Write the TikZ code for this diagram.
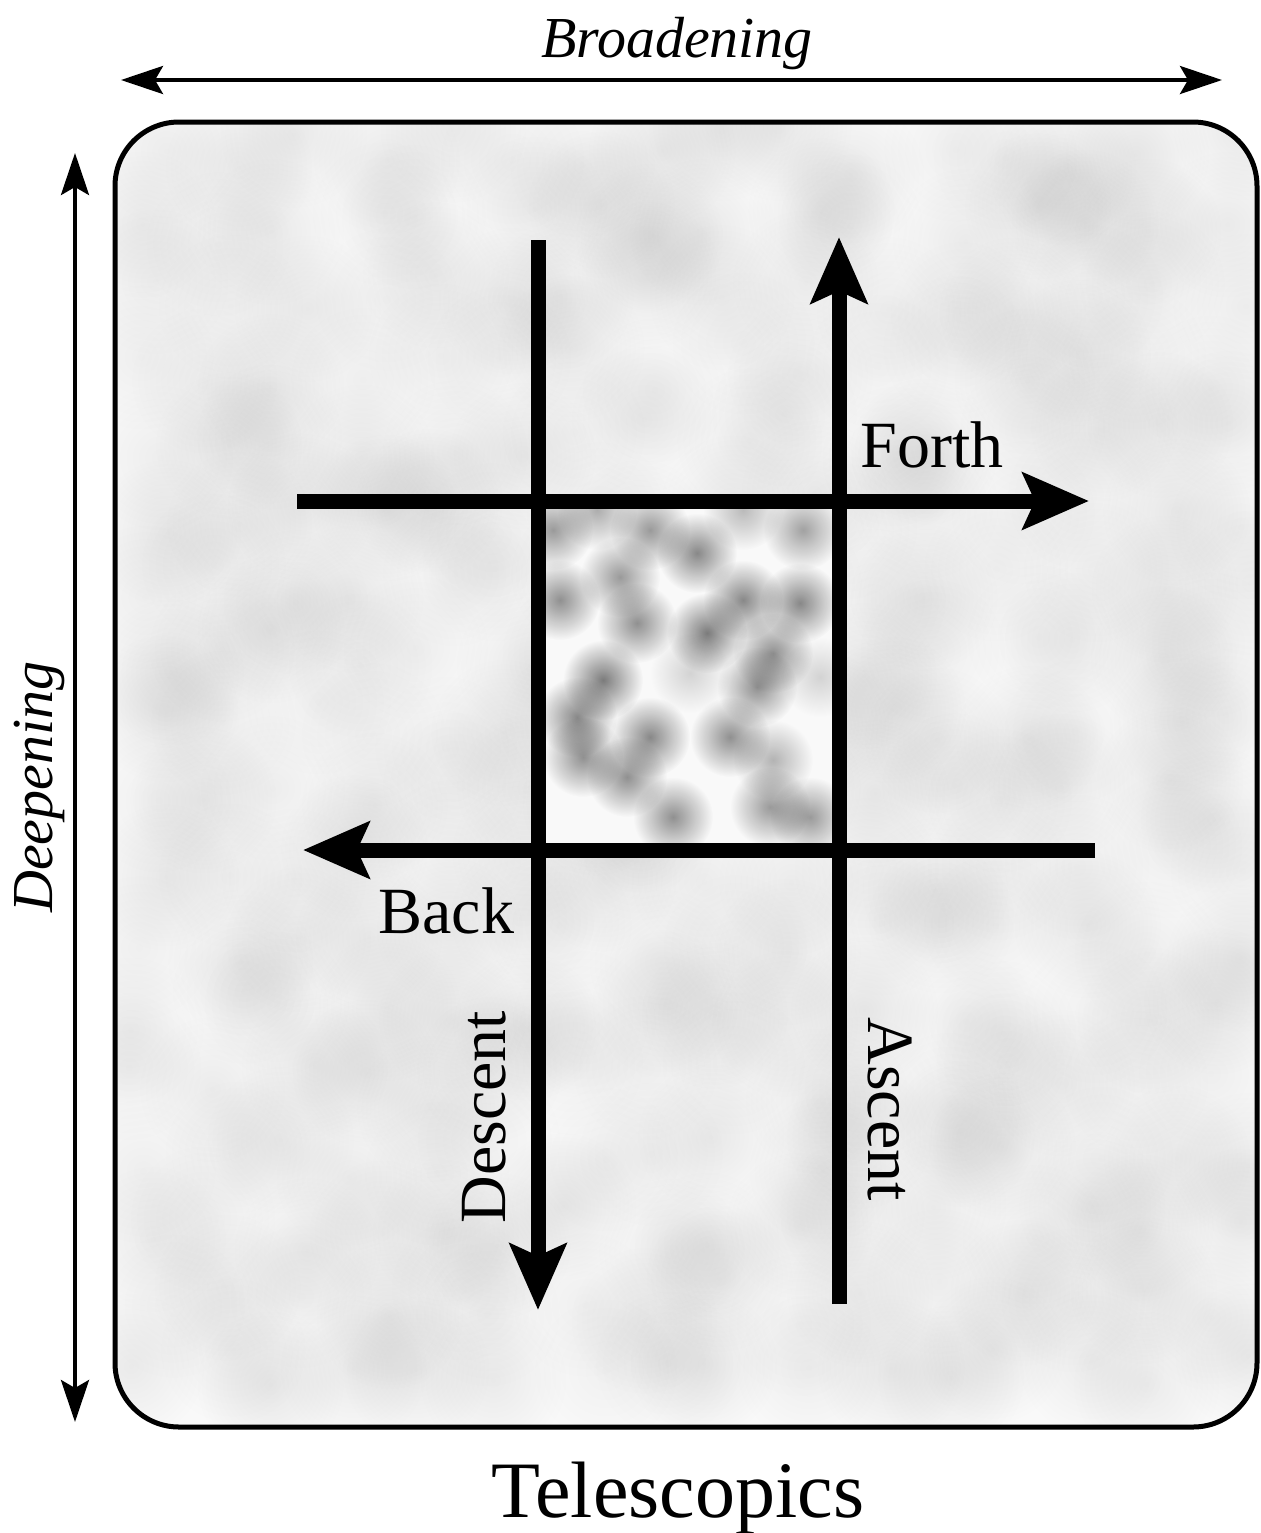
\documentclass[tikz,border=0pt]{standalone}
\usepackage{fontspec}
\setmainfont{Liberation Serif}
\usetikzlibrary{arrows.meta,fadings}
\tikzfading[name=blobfade, inner color=transparent!0, outer color=transparent!100]
\begin{document}
\begin{tikzpicture}[x=0.5pt,y=-0.5pt,
  thinarrow/.style={line width=2pt, {Stealth[length=21pt,width=14pt,inset=4pt]}-{Stealth[length=21pt,width=14pt,inset=4pt]}},
  thickline/.style={line width=7.5pt},
  bigtip/.style={-{Stealth[length=33pt,width=28pt,inset=6pt]}},
  lbl/.style={font=\fontsize{33}{36}\selectfont, inner sep=0pt},
  axislbl/.style={font=\fontsize{29}{33}\selectfont\itshape, inner sep=0pt},
  blob/.style={path fading=blobfade}
]
\useasboundingbox (0,0) rectangle (1261,1533);
\coordinate (boxNW) at (115,122);
\coordinate (boxSE) at (1257,1427);
\fill[gray!5, rounded corners=32pt] (boxNW) rectangle (boxSE);
\begin{scope}
  \clip[rounded corners=32pt] (boxNW) rectangle (boxSE);
  \pgfmathsetseed{11}
  \foreach \i in {0,...,15} {
    \foreach \j in {0,...,17} {
      \pgfmathsetmacro\bx{150+\i*72+rand*25}
      \pgfmathsetmacro\by{150+\j*72+rand*25}
      \pgfmathsetmacro\bo{0.035+0.045*rnd}
      \fill[black, opacity=\bo, blob] (\bx,\by) circle (75);
    }
  }
\end{scope}
\begin{scope}
  \clip (538,500) rectangle (840,850);
  \fill[gray!5] (538,500) rectangle (840,850);
  \foreach \px/\py/\po in {553/530/0.38, 597/510/0.3, 650/530/0.38, 697/553/0.45, 743/510/0.25,
      803/530/0.35, 620/577/0.38, 560/600/0.42, 743/600/0.45, 800/603/0.45, 637/623/0.42,
      707/633/0.5, 773/653/0.42, 603/680/0.5, 690/673/0.15, 757/687/0.42, 820/677/0.15,
      577/717/0.45, 650/737/0.45, 730/737/0.42, 583/757/0.42, 627/777/0.42, 773/760/0.28,
      673/817/0.42, 770/807/0.38, 810/817/0.38} {
    \fill[black, opacity=\po, blob] (\px,\py) circle (40);
  }
\end{scope}
\draw[line width=2.5pt, rounded corners=32pt] (boxNW) rectangle (boxSE);
% thin axis arrows
\coordinate (bL) at (121,80);
\coordinate (bR) at (1222,80);
\draw[thinarrow] (bL) -- (bR);
\coordinate (dT) at (75,153);
\coordinate (dB) at (75,1422);
\draw[thinarrow] (dT) -- (dB);
% thick lines
\coordinate (vlT) at (538,240);
\coordinate (vlB) at (538,1310);
\coordinate (vrB) at (839,1304);
\coordinate (vrT) at (839,237);
\coordinate (htL) at (297,501);
\coordinate (htR) at (1089,501);
\coordinate (hbR) at (1095,850);
\coordinate (hbL) at (303,850);
\draw[thickline, bigtip] (vlT) -- (vlB);
\draw[thickline, bigtip] (vrB) -- (vrT);
\draw[thickline, bigtip] (htL) -- (htR);
\draw[thickline, bigtip] (hbR) -- (hbL);
% labels
\node[lbl, anchor=base west] (forth) at (860,467) {Forth};
\node[lbl, anchor=base west] (back) at (378,933) {Back};
\node[lbl, rotate=90, anchor=base] (descent) at (505,1117) {Descent};
\node[lbl, rotate=-90, anchor=base] (ascent) at (868,1109) {Ascent};
\node[axislbl, anchor=base] (broad) at (677,57) {Broadening};
\node[axislbl, rotate=90, anchor=base] (deep) at (52,787) {Deepening};
\node[font=\fontsize{40}{44}\selectfont, inner sep=0pt, anchor=base] (tele) at (678,1517) {Telescopics};
\end{tikzpicture}
\end{document}
